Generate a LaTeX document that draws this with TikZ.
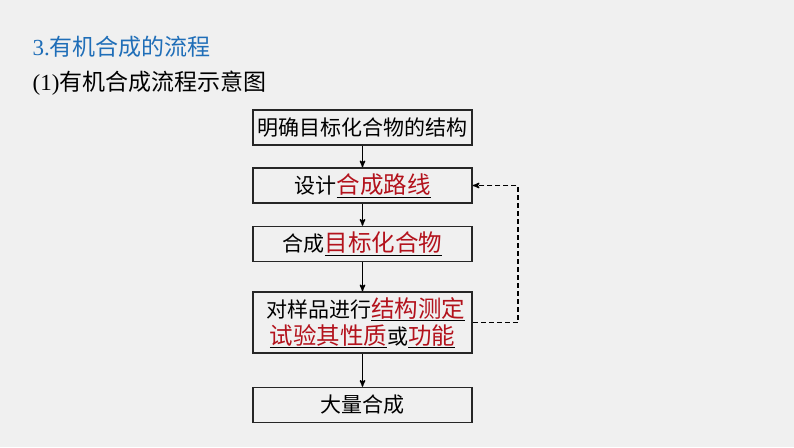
\documentclass[tikz,border=0pt]{standalone}
\usepackage{fontspec}
\setmainfont{Liberation Serif}
\newfontfamily\cjk{Noto Sans CJK SC}
\usetikzlibrary{%
  arrows,%
  positioning% wg. " of "
}
\definecolor{bggray}{HTML}{F0F0F0}
\definecolor{headblue}{HTML}{1F6EB8}
\definecolor{keyred}{HTML}{B3121C}
\newcommand{\keyword}[1]{\underline{\textcolor{keyred}{\fontsize{23.5}{27}\selectfont #1}}}

\begin{document}
\begin{tikzpicture}
  [
  x=1pt, y=-1pt, line width=1.3pt, draw=black, >=stealth',
  step box/.style={rectangle, minimum height=35pt, minimum width=219pt, draw=black!85, line width=1.5pt, fill=bggray, inner sep=0pt, font=\cjk\fontsize{21}{27}\selectfont},
  heading/.style={anchor=west, inner sep=0pt}
  ]

\useasboundingbox[fill=bggray] (0,0) rectangle (794,447);

\node[heading, text=headblue] (title) at (32,47) {\fontsize{23}{26}\selectfont 3.{\cjk 有机合成的流程}};
\node[heading] (subtitle) at (32,83) {\fontsize{23}{27}\selectfont (1){\cjk 有机合成流程示意图}};

\node[step box] (s1) at (362.5,127.5) {明确目标化合物的结构};
\node[step box] (s2) at (362.5,185.5) {设计\keyword{合成路线}};
\node[step box] (s3) at (362.5,244) {合成\keyword{目标化合物}};
\node[step box, minimum height=61pt, align=center] (s4) at (362.5,322.5) {\hspace{6pt}对样品进行\keyword{结构测定}\\\keyword{试验其性质}或\keyword{功能}\hspace{14pt}};
\node[step box] (s5) at (362.5,405) {大量合成};

\draw[->] (s1) -- (s2);
\draw[->] (s2) -- (s3);
\draw[->] (s3) -- (s4);
\draw[->] (s4) -- (s5);

% feedback
\coordinate (back) at (518,323);
\draw[->, dash pattern=on 5pt off 3pt] (s4.east) -- (s4.east -| back) |- (s2.east);
\end{tikzpicture}
\end{document}
